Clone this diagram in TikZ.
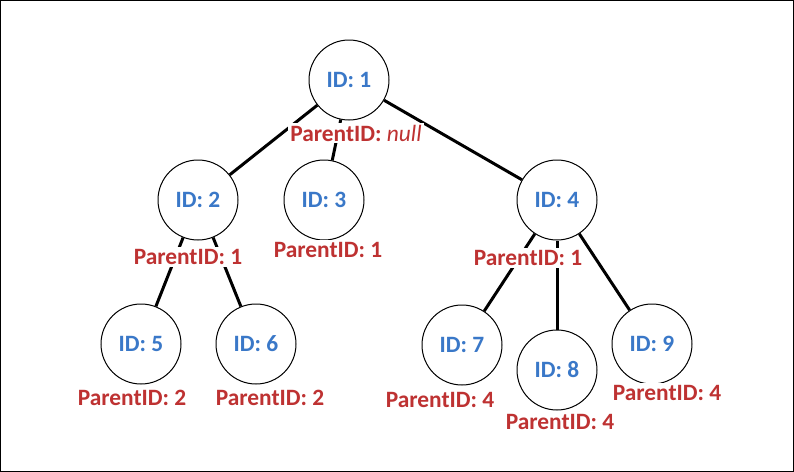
\documentclass[tikz,border=0pt]{standalone}
\usepackage{fontspec}
\setmainfont{Carlito}
\usetikzlibrary{positioning}
\definecolor{idblue}{RGB}{58,120,200}
\definecolor{pidred}{RGB}{190,50,50}

\begin{document}
\begin{tikzpicture}[
  x=0.5pt,y=-0.5pt,
  font=\fontsize{11.7}{14}\selectfont\bfseries,
  rec/.style={circle,draw,line width=0.5pt,minimum size=40pt,inner sep=0pt,text=idblue,fill=white},
  pid/.style={text=pidred,fill=white,inner sep=1pt},
  link/.style={line width=1.5pt},
]
\useasboundingbox (0,0) rectangle (794,472);
\draw[line width=0.5pt] (0.5,0.5) rectangle (793.5,471.5);

% records
\node[rec] (r1) at (349,80) {ID: 1};
\node[rec] (r2) at (198,200) {ID: 2};
\node[rec] (r3) at (324,200) {ID: 3};
\node[rec] (r4) at (557,200) {ID: 4};
\node[rec] (r5) at (141,344) {ID: 5};
\node[rec] (r6) at (256,344) {ID: 6};
\node[rec] (r7) at (462,345) {ID: 7};
\node[rec] (r8) at (557,370) {ID: 8};
\node[rec] (r9) at (652,344) {ID: 9};

% parent links
\draw[link] (r1) -- (r2);
\draw[link] (r1) -- (r3);
\draw[link] (r1) -- (r4);
\draw[link] (r2) -- (r5);
\draw[link] (r2) -- (r6);
\draw[link] (r4) -- (r7);
\draw[link] (r4) -- (r8);
\draw[link] (r4) -- (r9);

% parent ids
\node[pid] (p1) at (356,133) {ParentID: {\mdseries\itshape null}};
\node[pid] (p2) at (188,257) {ParentID: 1};
\node[pid] (p3) at (328,250) {ParentID: 1};
\node[pid] (p4) at (528,258) {ParentID: 1};
\node[pid] (p5) at (132,398) {ParentID: 2};
\node[pid] (p6) at (270,398) {ParentID: 2};
\node[pid] (p7) at (440,400) {ParentID: 4};
\node[pid] (p8) at (560,422) {ParentID: 4};
\node[pid] (p9) at (667,393) {ParentID: 4};
\end{tikzpicture}
\end{document}
